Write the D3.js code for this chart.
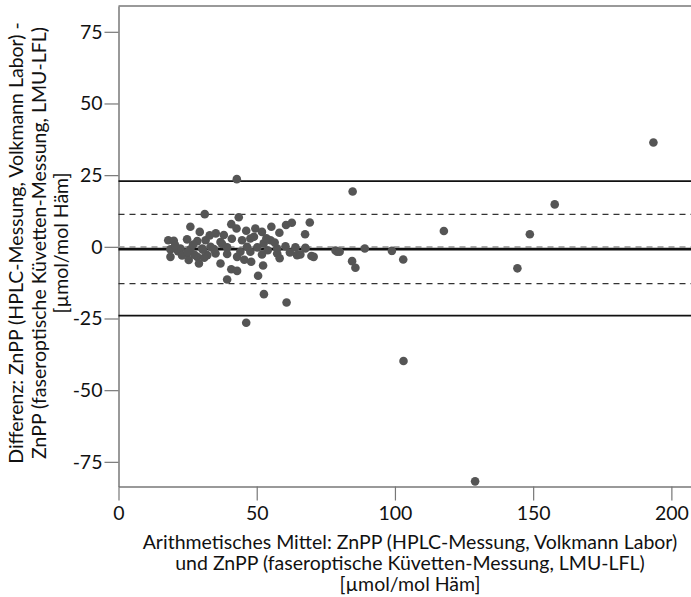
<!DOCTYPE html>
<html><head><meta charset="utf-8">
<script src="https://cdn.jsdelivr.net/npm/d3@7"></script>
<style>body{margin:0;background:#fff}svg{display:block}text{font-family:Lato,"Open Sans",sans-serif}</style>
</head><body><svg id="c" width="691" height="597"></svg>
<script>
const meanValues = [42.8,31.2,43.5,40.8,42.7,26.0,29.4,35.2,38.1,46.2,49.5,51.9,55.3,58.2,60.6,62.7,69.2,67.5,
 18.0,20.0,24.8,28.5,31.5,36.9,44.7,47.7,55.0,52.5,18.8,22.4,26.0,30.3,33.3,39.3,46.5,50.2,57.4,60.4,64.0,67.6,79.1,
 18.8,24.8,25.4,28.5,29.1,32.1,35.1,39.3,42.9,44.1,47.7,51.9,57.4,58.3,64.6,69.8,70.6,36.9,48.0,52.3,40.8,42.9,50.5,39.3,
 52.6,60.8,46.2,84.7,157.8,117.7,148.8,67.6,65.8,78.5,80.0,89.1,98.9,103.0,84.5,85.7,144.3,103.1,129.0,193.5,
 21.5,23.0,27.0,33.0,34.5,41.0,45.5,49.0,54.0,56.5,62.0,27.5,30.5,37.5,53.5,20.5,31.0,25.0];
const diffValues = [23.6,11.4,10.3,7.9,6.4,7.0,5.2,4.7,4.1,5.6,6.4,5.2,7.0,4.9,7.6,8.4,8.5,4.4,
 2.3,2.1,2.6,2.0,2.3,1.7,2.3,2.9,2.3,1.2,-0.9,-0.6,-0.9,-0.6,0.0,-0.2,0.0,-0.2,-0.6,0.2,-0.2,-0.6,-1.7,
 -3.5,-2.3,-4.6,-3.5,-5.8,-2.9,-2.3,-2.5,-3.5,-1.7,-1.7,-2.7,-2.3,-4.0,-2.9,-3.2,-3.5,-5.8,-5.2,-6.5,-7.8,-8.4,-10.1,-11.4,
 -16.5,-19.4,-26.5,19.3,14.8,5.5,4.4,-0.3,-2.7,-1.3,-1.7,-0.6,-1.4,-4.4,-5.0,-7.3,-7.5,-39.8,-81.8,36.4,
 -1.5,-3.0,0.8,4.0,-0.8,2.8,-4.5,3.5,-1.2,1.5,-2.0,-2.8,-1.0,1.0,3.0,0.5,-3.8,-1.8];
const meanDiff = -0.8;
const loaUpper = 22.9, loaLower = -24.0;
const sdUpper = 11.3, sdLower = -12.85;
const zeroLine = 0;
const xTicks = [0,50,100,150,200];
const yTicks = [75,50,25,0,-25,-50,-75];
const xTitle = ["Arithmetisches Mittel: ZnPP (HPLC-Messung, Volkmann Labor)","und ZnPP (faseroptische Küvetten-Messung, LMU-LFL)","[µmol/mol Häm]"];
const yTitle = ["Differenz: ZnPP (HPLC-Messung, Volkmann Labor) -","ZnPP (faseroptische Küvetten-Messung, LMU-LFL)","[µmol/mol Häm]"];

const svg = d3.select("#c");
const L=118.5, R=691, T=6, B=486.5;
const x = d3.scaleLinear().domain([0,207.1]).range([L,R]);
const y = d3.scaleLinear().domain([-83.6,84]).range([B,T]);

svg.append("line").attr("x1",L).attr("x2",R).attr("y1",T).attr("y2",T).attr("stroke","#777").attr("stroke-width",1.5);
const gx = svg.append("g").attr("transform",`translate(0,${B})`)
  .call(d3.axisBottom(x).tickValues(xTicks).tickSize(14).tickSizeOuter(0).tickPadding(6).tickFormat(d=>String(d)));
const gy = svg.append("g").attr("transform",`translate(${L},0)`)
  .call(d3.axisLeft(y).tickValues(yTicks).tickSize(14).tickSizeOuter(0).tickPadding(2).tickFormat(d=>String(d)));
[gx,gy].forEach(g=>{
  g.select(".domain").attr("stroke","#777").attr("stroke-width",1.5);
  g.selectAll(".tick line").attr("stroke","#777").attr("stroke-width",1.2);
  g.selectAll(".tick text").attr("fill","#111").attr("font-size",19.5).attr("font-family","Lato, 'Open Sans', sans-serif");
});

const hl = (v,stroke,w,dash)=>svg.append("line").attr("x1",L).attr("x2",R).attr("y1",y(v)).attr("y2",y(v))
  .attr("stroke",stroke).attr("stroke-width",w).attr("stroke-dasharray",dash||null);
hl(loaUpper,"#111",1.6);
hl(loaLower,"#111",1.6);
hl(sdUpper,"#333",1.3,"6,5");
hl(sdLower,"#333",1.3,"6,5");
hl(zeroLine,"#aaa",1.8,"6,5");
hl(meanDiff,"#111",2.6);

svg.append("g").selectAll("circle").data(meanValues.map((m,i)=>[m,diffValues[i]])).join("circle")
  .attr("cx",d=>x(d[0])).attr("cy",d=>y(d[1])).attr("r",4.3).attr("fill","#555");

const xt = svg.append("text").attr("text-anchor","middle").attr("font-size",19.5).attr("fill","#111");
xTitle.forEach((s,i)=>xt.append("tspan").attr("x",410).attr("y",549+i*21).text(s));
const yt = svg.append("text").attr("text-anchor","middle").attr("font-size",19.5).attr("fill","#111")
  .attr("transform","translate(0,243) rotate(-90)");
yTitle.forEach((s,i)=>yt.append("tspan").attr("x",0).attr("y",23+i*22.5).text(s));
</script></body></html>
